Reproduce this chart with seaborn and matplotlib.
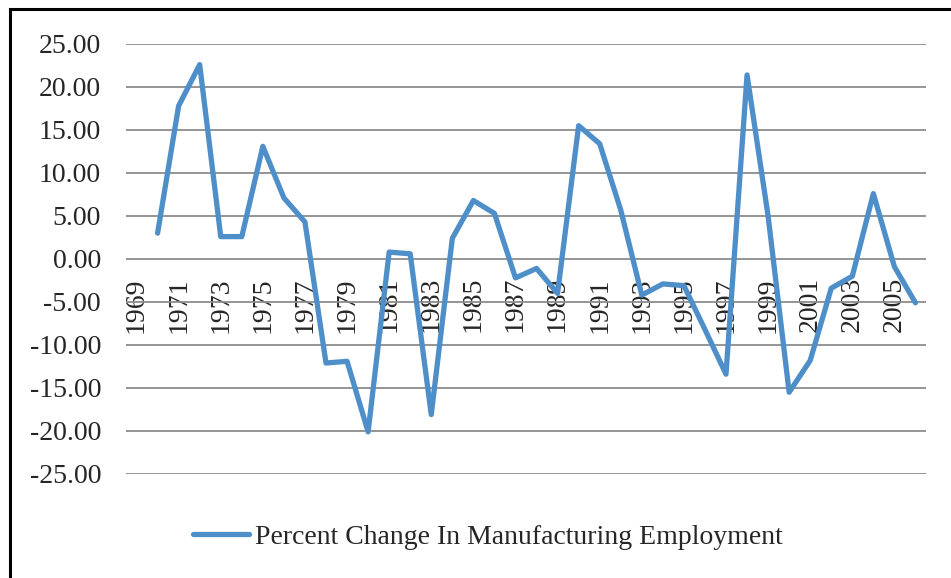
import matplotlib
matplotlib.use('Agg')
import matplotlib.pyplot as plt
from matplotlib.patches import Rectangle
import numpy as np
import pandas as pd
import seaborn as sns

# Data (1969 has no value)
years = list(range(1969, 2007))
pct_change = [np.nan, 3.0, 17.8, 22.6, 2.6, 2.6, 13.1, 7.1, 4.3, -12.1,
              -11.9, -20.1, 0.8, 0.6, -18.1, 2.4, 6.8, 5.3, -2.2, -1.1,
              -4.0, 15.5, 13.4, 5.7, -4.2, -2.9, -3.1, -8.2, -13.4, 21.4,
              5.0, -15.5, -11.8, -3.4, -2.0, 7.6, -0.9, -5.1]
series_name = 'Percent Change In Manufacturing Employment'
yticks = [-25, -20, -15, -10, -5, 0, 5, 10, 15, 20, 25]

df = pd.DataFrame({'year': years, 'value': pct_change})

sns.set_style('white')
plt.rcParams['font.family'] = ['Liberation Serif', 'DejaVu Serif']

fig = plt.figure(figsize=(9.51, 5.78), dpi=100)
ax = fig.add_axes([0.1325, 0.180, 0.8412, 0.7439])

line_color = '#4F8FC9'
sns.lineplot(data=df, x='year', y='value', ax=ax, color=line_color,
             linewidth=3.8, label=series_name, legend=False)

# horizontal axis sits at zero (this resets ticks, so do it first)
ax.spines['bottom'].set_position(('data', 0))
for s in ['top', 'right', 'left', 'bottom']:
    ax.spines[s].set_visible(False)

ax.set_xlim(years[0] - 0.5, years[-1] + 0.5)
ax.set_ylim(-25, 25)
ax.set_yticks(yticks)
ax.set_yticklabels([f'{v:.2f}' for v in yticks], fontsize=20)
ax.yaxis.grid(True, color='#8c8c8c', linewidth=1.3)
ax.set_axisbelow(True)

odd_years = years[::2]
ax.set_xticks(odd_years)
ax.set_xticklabels([str(y) for y in odd_years], rotation=90, fontsize=20)
ax.tick_params(axis='x', length=0, pad=13)
ax.tick_params(axis='y', length=0, pad=18)
ax.set_xlabel('')
ax.set_ylabel('')

# legend under the plot
handle = plt.Line2D([], [], color=line_color, linewidth=3.8)
fig.legend([handle], [series_name], loc='center', bbox_to_anchor=(0.513, 0.071),
           frameon=False, fontsize=20, handlelength=2.0, handletextpad=0.2)

# chart border (left and top visible)
fig.patches.append(Rectangle((0.0105, -0.1), 1.2, 1.0836, transform=fig.transFigure,
                             fill=False, edgecolor='black', linewidth=2.2))

fig.savefig('out.png', dpi=100)
